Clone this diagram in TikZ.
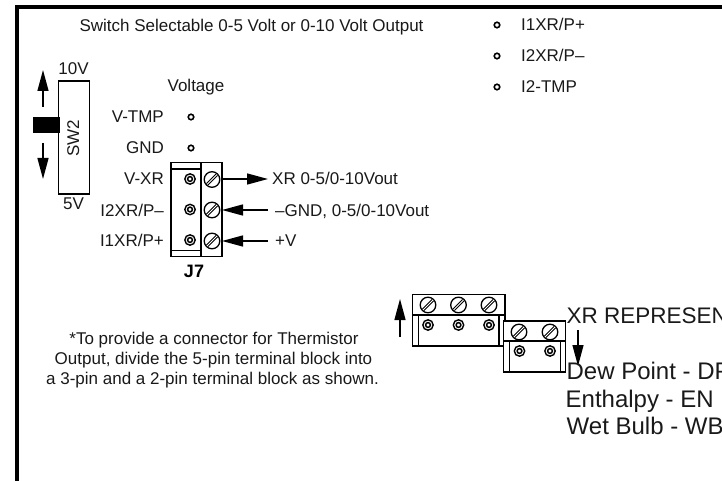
\documentclass[tikz,border=0pt]{standalone}
\usepackage{fontspec}
\setmainfont{Liberation Sans}
\usetikzlibrary{arrows.meta,calc}
\tikzset{
 lab/.style={inner sep=0pt,font=\fontsize{17}{20}\selectfont,text=black!90},
 labm/.style={lab,anchor=base},
 labr/.style={lab,anchor=base east},
 labl/.style={lab,anchor=base west},
 big/.style={inner sep=0pt,anchor=base west,font=\fontsize{24}{27}\selectfont,text=black!90},
 pin/.style={circle,draw=black,line width=1.6pt,fill=white,minimum size=5.5pt,inner sep=0pt},
 box/.style={draw=black,line width=1.1pt},
 thick box/.style={draw=black,line width=1.5pt},
 arr/.style={draw=black,line width=1.3pt,-{Triangle[length=21pt,width=11pt]}},
}
\newcommand{\screw}[1]{%
 \fill[white,draw=black,line width=1.3pt] (#1) circle (7.8);
 \draw[black,line width=3pt] ($(#1)+(-4.8,4.8)$) -- ($(#1)+(4.8,-4.8)$);
 \draw[white,line width=.8pt] ($(#1)+(-4.8,4.8)$) -- ($(#1)+(4.8,-4.8)$);
}
\newcommand{\socket}[1]{%
 \fill[white,draw=black,line width=1.4pt] (#1) circle (5.2);
 \draw[black,line width=1.5pt] (#1) circle (2.4);
}
\begin{document}
\begin{tikzpicture}[x=1pt,y=-1pt]
\useasboundingbox (0,0) rectangle (722,481);
\begin{scope}
\clip (0,0) rectangle (722,481);
% frame
\coordinate (fb) at (17,481);
\coordinate (fc) at (17,7);
\coordinate (fr) at (722,7);
\draw[black,line width=4pt] (fb) -- (fc) -- (fr);

\node[labm] (title) at (251.5,32) {Switch Selectable 0-5 Volt or 0-10 Volt Output};
% top-right list
\node[pin] (p1) at (497,25) {};
\node[pin] (p2) at (497,56) {};
\node[pin] (p3) at (497,87) {};
\node[labl] (t1) at (521,31) {I1XR/P+};
\node[labl] (t2) at (521,62) {I2XR/P–};
\node[labl] (t3) at (521,93) {I2-TMP};

% switch
\node[labm] (v10) at (73.5,75) {10V};
\node[labm] (v5) at (73.5,209) {5V};
\draw[draw=black,line width=1.3pt] (58.5,81) rectangle (89.5,194);
\node[lab,rotate=90,anchor=base] (sw2) at (79,138) {SW2};
\fill[black] (33,117) rectangle (60,133.5);
\coordinate (au0) at (43,107);
\coordinate (au1) at (43,70);
\coordinate (ad0) at (43,143);
\coordinate (ad1) at (43,179);
\draw[arr] (au0) -- (au1);
\draw[arr] (ad0) -- (ad1);

% voltage labels
\node[labm] (volt) at (196,92) {Voltage};
\node[labr] (l1) at (164,123) {V-TMP};
\node[labr] (l2) at (164,154) {GND};
\node[labr] (l3) at (164,184) {V-XR};
\node[labr] (l4) at (164,216) {I2XR/P–};
\node[labr] (l5) at (164,246) {I1XR/P+};
\node[pin] (q1) at (191,117) {};
\node[pin] (q2) at (191,148) {};

% J7 block
\draw[box] (171,162.5) rectangle (222,256.5);
\draw[box] (201,162.5) -- (201,256.5);
\draw[black,line width=1.5pt] (171,169) -- (201,169);
\draw[box] (171,250.5) -- (201,250.5);
\socket{190,179}
\socket{190,209.5}
\socket{190,240}
\screw{212,179.5}
\screw{212,210}
\screw{212,241}
\coordinate (s1) at (221,179);
\coordinate (s2) at (222,210);
\coordinate (s3) at (222,241);
\coordinate (e1) at (268,179);
\coordinate (e2) at (268,210);
\coordinate (e3) at (268,241);
\draw[arr] (s1) -- (e1);
\draw[arr] (e2) -- (s2);
\draw[arr] (e3) -- (s3);
\node[labl] (o1) at (272,185) {XR 0-5/0-10Vout};
\node[labl] (o2) at (275,216) {–GND, 0-5/0-10Vout};
\node[labl] (o3) at (275,246) {+V};
\node[inner sep=0pt,anchor=base,font=\fontsize{18}{20}\selectfont\bfseries] (j7) at (194,277) {J7};

% note
\node[labm] (n1) at (214,344) {*To provide a connector for Thermistor};
\node[labm] (n2) at (213.5,364) {Output, divide the 5-pin terminal block into};
\node[labm] (n3) at (212.5,384) {a 3-pin and a 2-pin terminal block as shown.};

% split blocks
\draw[thick box] (412.5,294.5) rectangle (505,346);
\draw[black,line width=1.8pt] (412,294.5) -- (505,294.5);
\draw[box] (412.5,315) -- (505,315);
\draw[black,line width=1.5pt] (418.5,315) -- (418.5,346);
\draw[box] (499,315) -- (499,346);
\screw{428,305}
\screw{458.5,305}
\screw{489,305}
\socket{428,325}
\socket{458.5,325}
\socket{489,325}
\draw[box,fill=white,line width=1.5pt] (503.5,321) rectangle (565.5,372);
\draw[box] (503.5,341) -- (565.5,341);
\draw[black,line width=1.5pt] (509.5,341) -- (509.5,372);
\draw[box] (560.5,341) -- (560.5,372);
\screw{519,332}
\screw{550,332}
\socket{519.5,351}
\socket{550,351}
\coordinate (ua0) at (400,337);
\coordinate (ua1) at (400,299);
\coordinate (da0) at (578,330);
\coordinate (da1) at (578,366);
\draw[arr] (ua0) -- (ua1);
\draw[arr] (da0) -- (da1);

\node[big,font=\fontsize{22.5}{27}\selectfont] (xr) at (566.5,323) {XR REPRESEN};
\node[big] (dp) at (566.4,379) {Dew Point - DP};
\node[big] (en) at (565.5,407) {Enthalpy - EN};
\node[big] (wb) at (566.5,434) {Wet Bulb - WB};
\end{scope}
\end{tikzpicture}
\end{document}
